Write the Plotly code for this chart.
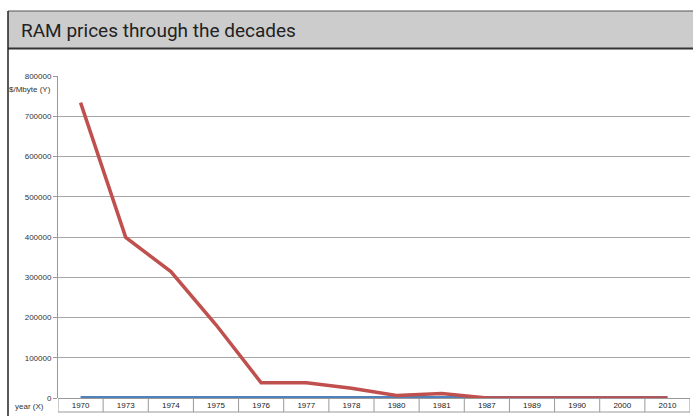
import plotly.graph_objects as go

years = ["1970", "1973", "1974", "1975", "1976", "1977", "1978", "1980", "1981",
         "1987", "1989", "1990", "2000", "2010"]
price_red = [734000, 399000, 314000, 182000, 38000, 38000, 24000, 6500, 11000,
             133, 113, 46, 1.56, 0.0122]
price_blue = [1500, 1500, 1500, 1500, 1500, 1500, 1500, 1500, 1500,
              1500, 1500, 1500, 1500, 1500]
y_ticks = [0, 100000, 200000, 300000, 400000, 500000, 600000, 700000, 800000]

W, H = 693, 416
L, R, T, B = 58, 3, 76, 18
PW, PH = W - L - R, H - T - B


def px(x):
    return (x - L) / PW


def py(y):
    return (H - B - y) / PH


fig = go.Figure()
fig.add_trace(go.Scatter(x=years, y=price_blue, mode="lines",
                         line=dict(color="#4f81bd", width=3), showlegend=False))
fig.add_trace(go.Scatter(x=years, y=price_red, mode="lines",
                         line=dict(color="#c0504d", width=3.5), showlegend=False))

shapes = []
# title bar
shapes.append(dict(type="rect", xref="paper", yref="paper",
                   x0=px(8), x1=px(W + 2), y0=py(49), y1=py(11),
                   fillcolor="#cccccc", line=dict(width=0), layer="below"))
shapes.append(dict(type="line", xref="paper", yref="paper",
                   x0=px(8), x1=px(W + 2), y0=py(11), y1=py(11),
                   line=dict(color="#555555", width=1)))
shapes.append(dict(type="line", xref="paper", yref="paper",
                   x0=px(8), x1=px(W + 2), y0=py(48.5), y1=py(48.5),
                   line=dict(color="#333333", width=2)))
# left frame line
shapes.append(dict(type="line", xref="paper", yref="paper",
                   x0=px(8), x1=px(8), y0=py(11), y1=py(H + 2),
                   line=dict(color="#222222", width=1.5)))
# category table
tb = py(412)
shapes.append(dict(type="line", xref="paper", yref="paper",
                   x0=0, x1=1, y0=tb, y1=tb,
                   line=dict(color="#999999", width=1)))
for i in range(len(years) + 1):
    shapes.append(dict(type="line", xref="x", yref="paper",
                       x0=i - 0.5, x1=i - 0.5, y0=0, y1=tb,
                       line=dict(color="#999999", width=1)))

annotations = [
    dict(text="RAM prices through the decades", xref="paper", yref="paper",
         x=px(19), y=py(30), xanchor="left", yanchor="middle", showarrow=False,
         font=dict(family="Roboto", size=19, color="#222222")),
    dict(text="$/Mbyte (Y)", xref="paper", yref="paper",
         x=px(53), y=py(89), xanchor="right", yanchor="middle", showarrow=False,
         font=dict(family="Liberation Sans, Arial", size=8, color="#333333")),
    dict(text="year (X)", xref="paper", yref="paper",
         x=px(13), y=py(406), xanchor="left", yanchor="middle", showarrow=False,
         font=dict(family="Liberation Sans, Arial", size=8, color="#333333")),
]

fig.update_layout(
    width=W, height=H,
    margin=dict(l=L, r=R, t=T, b=B, pad=0),
    paper_bgcolor="white", plot_bgcolor="white",
    shapes=shapes, annotations=annotations,
    xaxis=dict(type="category", categoryorder="array", categoryarray=years,
               range=[-0.5, len(years) - 0.5], showgrid=False, zeroline=False,
               showline=False, ticks="", ticklabelstandoff=1,
               tickfont=dict(family="Liberation Sans, Arial", size=8, color="#222222")),
    yaxis=dict(range=[0, 800000], tickvals=y_ticks, ticktext=[str(v) for v in y_ticks],
               showgrid=True, gridcolor="#a6a6a6", gridwidth=1,
               zeroline=True, zerolinecolor="#999999", zerolinewidth=1,
               showline=True, linecolor="#999999", linewidth=1,
               ticks="outside", ticklen=4, tickcolor="#999999",
               tickfont=dict(family="Liberation Sans, Arial", size=8, color="#333333")),
)

fig.write_html("out.html", config={"displayModeBar": False},
               post_script="document.body.style.margin='0px';document.body.style.overflow='hidden';")
